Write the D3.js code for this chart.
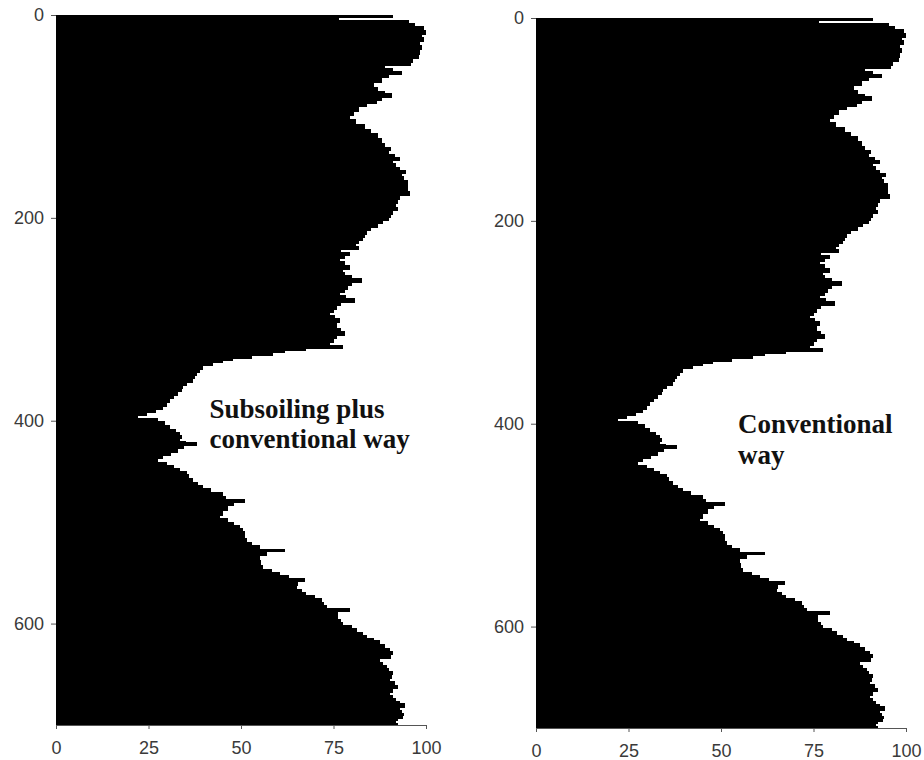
<!DOCTYPE html>
<html lang="en">
<head>
  <meta charset="UTF-8">
  <title>Depth profile</title>
  <script src="https://d3js.org/d3.v7.min.js"></script>
  <style>
    body { margin: 0; background: #fff; }
    .axis text { font-family: "Liberation Sans", Arial, sans-serif; font-size: 18px; fill: #3a3a3a; }
    .axis path, .axis line { stroke: #555; }
    .note { font-family: "Liberation Serif", "Times New Roman", serif; font-weight: bold; font-size: 27px; fill: #111; }
  </style>
</head>
<body>
  <div id="chart"></div>
  <script>
    // depth where each band starts (bands run to the next depth, last one to 700)
    const depths = [0, 1.5, 5, 8, 11, 15, 19, 22, 26, 30, 34, 38, 42, 46, 49, 52, 55, 58, 61, 66,
      71, 75, 77, 81, 84, 87, 90, 95, 99, 103, 107, 112, 116, 121, 126, 130, 133, 137, 140, 143,
      146, 150, 153, 156, 159, 163, 166, 170, 174, 177, 181, 185, 189, 192, 196, 199, 202, 205, 209, 212,
      216, 219, 222, 225, 228, 231, 234, 237, 240, 243, 246, 250, 253, 256, 259, 263, 266, 270, 273, 276,
      279, 283, 286, 290, 293, 296, 299, 303, 306, 309, 312, 315, 318, 322, 325, 328, 330, 332, 335, 338,
      340, 342, 345, 349, 352, 355, 358, 362, 365, 368, 371, 375, 378, 382, 385, 388, 391, 394, 397, 400,
      404, 408, 411, 414, 417, 420, 421, 424, 427, 431, 434, 437, 441, 444, 447, 450, 453, 456, 460, 463,
      466, 470, 474, 477, 480, 483, 488, 493, 496, 500, 503, 506, 509, 512, 516, 520, 523, 526, 528, 532,
      537, 542, 546, 549, 552, 555, 558, 562, 566, 569, 572, 575, 579, 582, 585, 588, 591, 595, 598, 601,
      604, 608, 611, 614, 616, 620, 624, 627, 630, 634, 638, 641, 644, 647, 650, 654, 657, 661, 664, 667,
      670, 673, 676, 678, 682, 685, 688, 690, 693, 695, 698];

    const subsoiling = [91, 76.5, 95.5, 97, 99.5, 100, 99, 99.5, 98.5, 99, 98.5, 98, 96.5, 96, 89, 91, 93.4, 90, 88, 86,
      87, 89, 90.7, 88, 86.7, 84, 82, 80.6, 79.5, 81, 83.5, 85, 87, 88, 89, 90.5, 90, 91.5, 93, 91,
      91.8, 93, 94.6, 93.5, 94, 95, 95.2, 95, 95.6, 93, 92.5, 92, 92.5, 91, 90.5, 90, 88.5, 87, 85, 84,
      83.5, 82.9, 82, 81, 82, 77, 79.5, 78, 76.8, 78, 79.5, 77.5, 78, 80, 82.6, 80, 79, 78, 76.8, 78.5,
      80.8, 77, 75.9, 75, 74, 75.5, 76.8, 76, 75.9, 77, 78, 76, 75, 74, 77.6, 67.7, 62, 58.7, 53, 47.9,
      45, 42.5, 39.6, 39, 38, 37.5, 37, 35.5, 34.4, 34, 33, 32, 30.8, 30, 29, 27, 24.5, 22.2, 27.5, 29.5,
      30.8, 32.5, 33.5, 34, 33.5, 35, 38, 34.5, 33, 31, 29, 27.5, 30, 32, 33.5, 35.3, 36, 37, 38.5, 39.8,
      42, 45, 46, 51, 48, 46.5, 45, 44.3, 46.6, 48, 49.7, 50.5, 51, 51, 51.5, 53, 55, 61.9, 57, 55,
      55.5, 56, 58.5, 60.5, 63, 67.3, 65.5, 65, 66.5, 67.7, 70, 71.8, 72.5, 73.2, 79.5, 76.3, 76.3, 77, 77.7, 80,
      81.3, 83, 84, 86, 87.6, 89, 90.3, 91, 90.5, 87.6, 88.5, 89.4, 90, 91, 90.8, 90.3, 91.5, 92.5, 91, 90.3,
      91, 91.9, 93, 94.3, 93, 93.5, 94, 93.9, 92.5, 91.8, 92.5];

    // the right-hand profile reads the same off the picture
    const conventional = subsoiling.slice();

    const xTicks = [0, 25, 50, 75, 100];
    const yTicks = [0, 200, 400, 600];
    const maxDepth = 700;

    const width = 924, height = 760;

    const svg = d3.select('#chart').append('svg')
      .attr('width', width)
      .attr('height', height);

    const panels = [
      { values: subsoiling, x0: 56, x1: 426, y0: 15, y1: 725,
        note: ['Subsoiling plus', 'conventional way'], noteAt: [41.5, 397], lineGap: 30 },
      { values: conventional, x0: 536, x1: 906, y0: 18, y1: 728,
        note: ['Conventional', 'way'], noteAt: [54.6, 409], lineGap: 31 }
    ];

    panels.forEach(p => {
      const x = d3.scaleLinear().domain([0, 100]).range([p.x0, p.x1]);
      const y = d3.scaleLinear().domain([0, maxDepth]).range([p.y0, p.y1]);

      const bands = depths.map((d, i) => ({
        top: d,
        bottom: i < depths.length - 1 ? depths[i + 1] : maxDepth,
        value: p.values[i]
      }));

      const g = svg.append('g');

      // y axis first so the bars sit on top of its line
      g.append('g')
        .attr('class', 'axis')
        .attr('transform', `translate(${p.x0},0)`)
        .call(d3.axisLeft(y).tickValues(yTicks).tickSize(5).tickPadding(7).tickSizeOuter(0));

      // bars drawn wider ones first is not needed; small overlap hides seams
      g.append('g')
        .attr('shape-rendering', 'crispEdges')
        .selectAll('rect')
        .data(bands)
        .join('rect')
        .attr('x', x(0))
        .attr('y', d => y(d.top))
        .attr('width', d => x(d.value) - x(0))
        .attr('height', (d, i) => y(d.bottom) - y(d.top) + (i < bands.length - 1 ? 1 : 0))
        .attr('fill', '#000');

      g.append('g')
        .attr('class', 'axis')
        .attr('transform', `translate(0,${p.y1})`)
        .call(d3.axisBottom(x).tickValues(xTicks).tickSize(4).tickPadding(12).tickSizeOuter(0));

      const t = g.append('text')
        .attr('class', 'note')
        .attr('x', x(p.noteAt[0]))
        .attr('y', y(p.noteAt[1]));
      t.append('tspan').text(p.note[0]);
      t.append('tspan')
        .attr('x', x(p.noteAt[0]))
        .attr('dy', p.lineGap)
        .text(p.note[1]);
    });
  </script>
</body>
</html>
